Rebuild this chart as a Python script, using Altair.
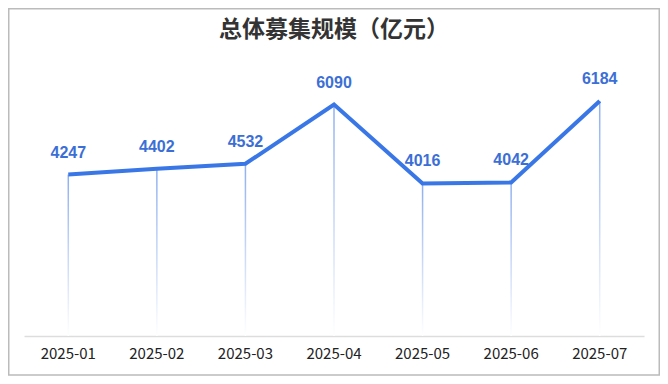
import altair as alt
import pandas as pd

months = ["2025-01", "2025-02", "2025-03", "2025-04", "2025-05", "2025-06", "2025-07"]
values = [4247, 4402, 4532, 6090, 4016, 4042, 6184]
title_text = "总体募集规模（亿元）"

df = pd.DataFrame({"month": months, "value": values})

x = alt.X("month:N", sort=months,
          scale=alt.Scale(paddingInner=0, paddingOuter=0),
          axis=alt.Axis(title=None, labelAngle=0, ticks=False, grid=False,
                        domainColor="#dddddd", domainWidth=1.5,
                        labelFont="Noto Sans CJK SC", labelFontSize=15,
                        labelColor="#222222", labelPadding=10))
y = alt.Y("value:Q", scale=alt.Scale(domain=[0, 7000], nice=False, zero=True),
          axis=None)

base = alt.Chart(df)

drops = base.mark_bar(
    size=1.5,
    color=alt.Gradient(
        gradient="linear",
        stops=[alt.GradientStop(color="#8eaff0", offset=0),
               alt.GradientStop(color="#ffffff", offset=1)],
        x1=0, x2=0, y1=0, y2=1,
    ),
).encode(x=x, y=y)

line = base.mark_line(color="#3a77e6", strokeWidth=4, strokeJoin="miter").encode(x=x, y=y)

labels = base.mark_text(
    dy=-22, font="Liberation Sans", fontSize=16, fontWeight="bold", color="#3c6fd6",
    baseline="middle",
).encode(x=x, y=y, text="value:Q")

one = alt.Chart(pd.DataFrame({"t": [title_text]}))

border = one.mark_rect(
    fill=None, stroke="#bbbbbb", strokeWidth=1.5
).encode(x=alt.value(-15.25), x2=alt.value(635.25), y=alt.value(-61.25), y2=alt.value(305))

title = one.mark_text(
    font="Noto Sans CJK SC", fontSize=23, fontWeight="bold", color="#333333",
    align="center", baseline="middle",
).encode(x=alt.value(310), y=alt.value(-40), text="t:N")

chart = alt.layer(border, title, drops, line, labels).properties(
    width=620,
    height=266,
    padding={"left": 16, "top": 62, "right": 16, "bottom": 40},
    autosize=alt.AutoSizeParams(type="none"),
).configure_view(stroke=None)

chart.save("out.html", embed_options={"renderer": "svg", "actions": False})
